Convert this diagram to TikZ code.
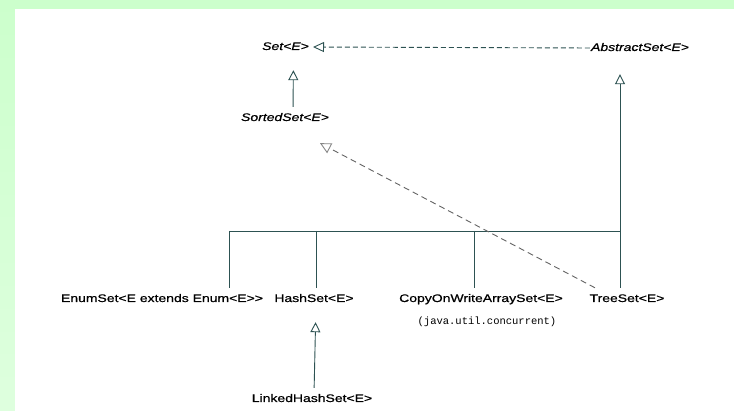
\documentclass[tikz,border=0pt]{standalone}
\usepackage{graphicx}
\usepackage{fontspec}
\setmainfont{Liberation Sans}[FakeBold=0.6]
\newfontfamily\monofont{Liberation Mono}
\usetikzlibrary{arrows.meta}

\definecolor{bgtop}{RGB}{204,255,204}
\definecolor{bgbot}{RGB}{222,255,222}
\definecolor{umlline}{RGB}{45,82,82}
\definecolor{dashgray}{RGB}{100,100,100}
\definecolor{tipgray}{RGB}{135,135,135}

% class names are set slightly wide
\newcommand{\wide}[1]{\scalebox{1.27}[1]{#1}}

\begin{document}
\begin{tikzpicture}[x=1pt,y=-1pt,
  lbl/.style={inner sep=0pt, text height=8pt, text depth=2pt,
              font=\fontsize{11}{13}\selectfont},
  abstr/.style={lbl, font=\fontsize{11}{13}\selectfont\itshape},
  pkg/.style={inner sep=0pt, font=\monofont\fontsize{10.5}{12}\selectfont},
  tree/.style={draw=umlline, line width=0.9pt},
  inh/.style={tree, -{Triangle[open, length=10pt, width=10pt]}},
  realize/.style={draw=umlline, line width=0.9pt, dash pattern=on 5pt off 3pt,
                  -{Triangle[open, length=11pt, width=10pt]}},
  grayreal/.style={draw=dashgray, line width=0.9pt, dash pattern=on 6pt off 4pt,
                   -{Triangle[open, length=11pt, width=11pt, color=tipgray]}}
]
  % page frame
  \fill[top color=bgtop, bottom color=bgbot] (0,0) rectangle (734,411);
  \fill[white] (15,9) rectangle (734,411);
  \useasboundingbox (0,0) rectangle (734,411);

  % interfaces and abstract classes
  \node[abstr] (set)    at (285.5,47)  {\wide{Set<E>}};
  \node[abstr] (abs)    at (640,48)    {\wide{AbstractSet<E>}};
  \node[abstr] (sorted) at (285,118)   {\wide{SortedSet<E>}};

  % concrete classes
  \node[lbl] (enum)   at (162,299) {\wide{EnumSet<E extends Enum<E>{}>}};
  \node[lbl] (hash)   at (314,299) {\wide{HashSet<E>}};
  \node[lbl] (cow)    at (481,299) {\wide{CopyOnWriteArraySet<E>}};
  \node[lbl] (treeset) at (627,299) {\wide{TreeSet<E>}};
  \node[pkg] (conc)   at (487,322) {(java.util.concurrent)};
  \node[lbl] (linked) at (312,399) {\wide{LinkedHashSet<E>}};

  % joints of the subclass bus
  \coordinate (busE) at (229,231);
  \coordinate (busH) at (316,231);
  \coordinate (busC) at (474,231);
  \coordinate (busT) at (620,231);

  % Set <- AbstractSet
  \draw[realize, shorten >=4pt, shorten <=1pt] (abs.west) -- (set.east);

  % SortedSet -> Set
  \draw[inh, shorten <=6pt, shorten >=18pt]
    ([xshift=8pt]sorted.north) -- ([xshift=8pt]set.south);

  % subclasses of AbstractSet
  \draw[tree] (busE) -- (busT);
  \draw[tree, shorten >=6pt] (busE) -- (busE |- enum.north);
  \draw[tree, shorten >=6pt] (busH) -- (busH |- hash.north);
  \draw[tree, shorten >=6pt] (busC) -- (busC |- cow.north);
  \draw[inh, shorten <=6pt, shorten >=21pt] (busT |- treeset.north) -- (busT |- abs.south);

  % TreeSet implements SortedSet
  \draw[grayreal]
    ([xshift=-32pt, yshift=6pt]treeset.north) -- ([xshift=35pt, yshift=-20pt]sorted.south);

  % LinkedHashSet -> HashSet
  \draw[inh, shorten <=6pt, shorten >=18pt]
    ([xshift=2pt]linked.north) -- ([xshift=2pt]hash.south);
\end{tikzpicture}
\end{document}
